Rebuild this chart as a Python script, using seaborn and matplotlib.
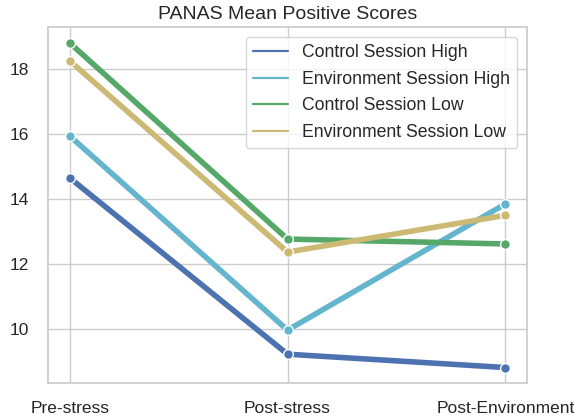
import matplotlib
matplotlib.use("Agg")
import matplotlib.pyplot as plt
import seaborn as sns
import pandas as pd

phases = ["Pre-stress", "Post-stress", "Post-Environment"]
groups = ["Control Session High", "Environment Session High",
          "Control Session Low", "Environment Session Low"]
control_high = [14.65, 9.23, 8.82]
environment_high = [15.94, 9.97, 13.85]
control_low = [18.80, 12.77, 12.62]
environment_low = [18.25, 12.37, 13.50]
colors = ["#4C72B0", "#64B5CD", "#55A868", "#CCB974"]

series = [control_high, environment_high, control_low, environment_low]
rows = []
for name, vals in zip(groups, series):
    for ph, v in zip(phases, vals):
        rows.append({"Phase": ph, "Score": v, "Group": name})
df = pd.DataFrame(rows)

sns.set_theme(style="whitegrid")
plt.rcParams["font.family"] = ["Liberation Sans", "DejaVu Sans"]

fig, ax = plt.subplots(figsize=(5.85, 4.16), dpi=100)
fig.subplots_adjust(left=0.082, right=0.901, top=0.935, bottom=0.079)

sns.lineplot(data=df, x="Phase", y="Score", hue="Group", hue_order=groups,
             palette=colors, marker="o", markersize=7, linewidth=4,
             markeredgecolor="white", markeredgewidth=1, sort=False, ax=ax)

ax.set_title("PANAS Mean Positive Scores", fontsize=14, pad=6)
ax.set_xlabel("")
ax.set_ylabel("")
ax.set_yticks([10, 12, 14, 16, 18])
ax.set_ylim(8.34, 19.29)
ax.tick_params(axis="both", labelsize=12.5, colors="#262626")
ax.tick_params(axis="y", pad=8)
ax.tick_params(axis="x", pad=7)

leg = ax.legend(loc="upper right", fontsize=12.7, frameon=True,
                handlelength=2.0, handletextpad=0.8, borderpad=0.4,
                labelspacing=0.55, bbox_to_anchor=(0.998, 0.997))
for line in leg.get_lines():
    line.set_linewidth(1.6)
    line.set_marker("")

fig.savefig("out.png", dpi=100)
